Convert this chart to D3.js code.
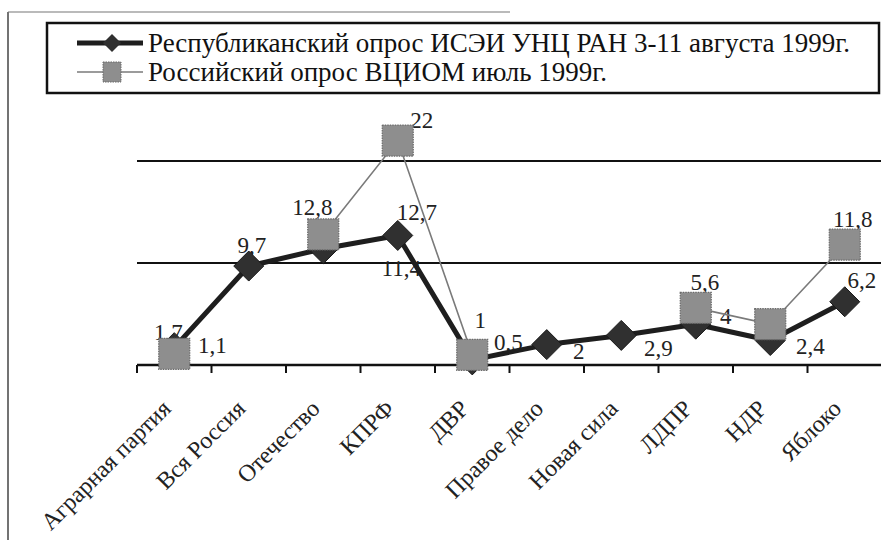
<!DOCTYPE html>
<html>
<head>
<meta charset="utf-8">
<script src="https://cdn.jsdelivr.net/npm/d3@7"></script>
<style>
  body { margin: 0; background: #fff; }
  svg { display: block; font-family: "Liberation Serif", "Times New Roman", serif; }
</style>
</head>
<body>
<svg id="chart" width="881" height="540"></svg>
<script>
// data
const categories = ["Аграрная партия", "Вся Россия", "Отечество", "КПРФ", "ДВР",
  "Правое дело", "Новая сила", "ЛДПР", "НДР", "Яблоко"];
const republicValues = [1.7, 9.7, 11.4, 12.7, 0.5, 2, 2.9, 4, 2.4, 6.2];
const russiaValues = [1.1, null, 12.8, 22, 1, null, null, 5.6, 4, 11.8];
const gridTicks = [10, 20];
const seriesNames = [
  "Республиканский опрос ИСЭИ УНЦ РАН 3-11 августа 1999г.",
  "Российский опрос ВЦИОМ июль 1999г."
];

// label nudges (dx, baseline dy from the point), the scan has them moved by hand
const republicLabelPos = [[-6, -8], [3, -13], [78, 27], [19, -15], [36, -10],
  [32, 14], [37, 21], [30, 0], [40, 13], [17, -14]];
const russiaLabelPos = [[38, -1], null, [-11, -19], [24, -13], [8, -27],
  null, null, [9, -18], null, [8, -18]];

const width = 881, height = 540;
const margin = { top: 161, left: 137, right: -1, bottom: 175 };
const axisY = height - margin.bottom;

const svg = d3.select("#chart");

const xscale = d3.scaleBand()
  .domain(categories)
  .range([margin.left, width - margin.right])
  .padding(0);

const yscale = d3.scaleLinear()
  .domain([0, 20])
  .range([axisY, margin.top]);

const cx = (i) => xscale(categories[i]) + xscale.bandwidth() / 2;
const fmt = (v) => String(v).replace(".", ",");

const addFrame = () => {
  // outer chart border, only left and part of top survive in the scan
  svg.append("line")
    .attr("x1", 8).attr("y1", 12).attr("x2", 8).attr("y2", height)
    .attr("stroke", "#444").attr("stroke-width", 1.5);
  svg.append("line")
    .attr("x1", 8).attr("y1", 12).attr("x2", 510).attr("y2", 12)
    .attr("stroke", "#777").attr("stroke-width", 1.2);
};

const addAxes = () => {
  svg.append("g")
    .selectAll("line")
    .data(gridTicks)
    .enter()
    .append("line")
    .attr("x1", margin.left)
    .attr("x2", width)
    .attr("y1", (d) => yscale(d))
    .attr("y2", (d) => yscale(d))
    .attr("stroke", "#111")
    .attr("stroke-width", 2);

  const xAxis = d3.axisBottom(xscale).tickSize(0).tickPadding(0);
  const g = svg.append("g")
    .attr("transform", `translate(0, ${axisY})`)
    .call(xAxis);
  g.select(".domain").remove();
  g.selectAll("text")
    .attr("x", 0)
    .attr("y", 0)
    .attr("dy", 0)
    .attr("text-anchor", "end")
    .attr("transform", "translate(-2, 45) rotate(-45)")
    .attr("font-size", 24)
    .attr("font-family", "Liberation Serif")
    .attr("fill", "#222");

  // ticks between categories
  const edges = categories.map((c) => xscale(c)).concat([xscale.range()[1]]);
  svg.append("g")
    .selectAll("line")
    .data(edges)
    .enter()
    .append("line")
    .attr("x1", (d) => d).attr("x2", (d) => d)
    .attr("y1", axisY).attr("y2", axisY + 8)
    .attr("stroke", "#111").attr("stroke-width", 2);

  svg.append("line")
    .attr("x1", margin.left).attr("x2", width)
    .attr("y1", axisY).attr("y2", axisY)
    .attr("stroke", "#111").attr("stroke-width", 2.5);
};

const addLabels = (values, pos) => {
  svg.append("g")
    .selectAll("text")
    .data(values.map((v, i) => ({ v, i, p: pos[i] })).filter((d) => d.v != null && d.p))
    .enter()
    .append("text")
    .attr("x", (d) => cx(d.i) + d.p[0])
    .attr("y", (d) => yscale(d.v) + d.p[1])
    .attr("text-anchor", "middle")
    .attr("font-size", 23)
    .attr("fill", "#222")
    .text((d) => fmt(d.v));
};

const addRepublic = () => {
  const line = d3.line()
    .x((d, i) => cx(i))
    .y((d) => yscale(d));
  svg.append("path")
    .datum(republicValues)
    .attr("d", line)
    .attr("fill", "none")
    .attr("stroke", "#1e1e1e")
    .attr("stroke-width", 5)
    .attr("stroke-linejoin", "round");

  svg.append("g")
    .selectAll("path")
    .data(republicValues)
    .enter()
    .append("path")
    .attr("d", "M0,-15L15,0L0,15L-15,0Z")
    .attr("transform", (d, i) => `translate(${cx(i)}, ${yscale(d)})`)
    .attr("fill", "#303030")
    .attr("stroke", "#1a1a1a")
    .attr("stroke-width", 1);
};

const addRussia = () => {
  const line = d3.line()
    .defined((d) => d != null)
    .x((d, i) => cx(i))
    .y((d) => yscale(d));
  svg.append("path")
    .datum(russiaValues)
    .attr("d", line)
    .attr("fill", "none")
    .attr("stroke", "#7a7a7a")
    .attr("stroke-width", 1.6);

  svg.append("g")
    .selectAll("rect")
    .data(russiaValues.map((v, i) => ({ v, i })).filter((d) => d.v != null))
    .enter()
    .append("rect")
    .attr("x", (d) => cx(d.i) - 15.5)
    .attr("y", (d) => yscale(d.v) - 15.5)
    .attr("width", 31)
    .attr("height", 31)
    .attr("fill", "#8e8e8e")
    .attr("stroke", "#6a6a6a")
    .attr("stroke-width", 1.2)
    .attr("stroke-dasharray", "1.5,1");
};

const addLegend = () => {
  const lg = svg.append("g");
  lg.append("rect")
    .attr("x", 47).attr("y", 23)
    .attr("width", 832).attr("height", 70)
    .attr("fill", "#fff")
    .attr("stroke", "#111")
    .attr("stroke-width", 2.5);

  const rows = [43, 72];
  lg.append("line")
    .attr("x1", 77).attr("x2", 143).attr("y1", rows[0]).attr("y2", rows[0])
    .attr("stroke", "#1e1e1e").attr("stroke-width", 5);
  lg.append("path")
    .attr("d", "M0,-9L9,0L0,9L-9,0Z")
    .attr("transform", `translate(112, ${rows[0]})`)
    .attr("fill", "#303030");
  lg.append("line")
    .attr("x1", 77).attr("x2", 143).attr("y1", rows[1]).attr("y2", rows[1])
    .attr("stroke", "#7a7a7a").attr("stroke-width", 1.6);
  lg.append("rect")
    .attr("x", 103).attr("y", rows[1] - 10)
    .attr("width", 18).attr("height", 20)
    .attr("fill", "#8e8e8e")
    .attr("stroke", "#6a6a6a").attr("stroke-dasharray", "1.5,1");

  lg.selectAll("text.name")
    .data(seriesNames)
    .enter()
    .append("text")
    .attr("class", "name")
    .attr("x", 148)
    .attr("y", (d, i) => rows[i] + 9)
    .attr("font-size", 27)
    .attr("fill", "#111")
    .text((d) => d);
};

addFrame();
addAxes();
addLabels(republicValues, republicLabelPos);
addLabels(russiaValues, russiaLabelPos);
addRepublic();
addRussia();
addLegend();
</script>
</body>
</html>
